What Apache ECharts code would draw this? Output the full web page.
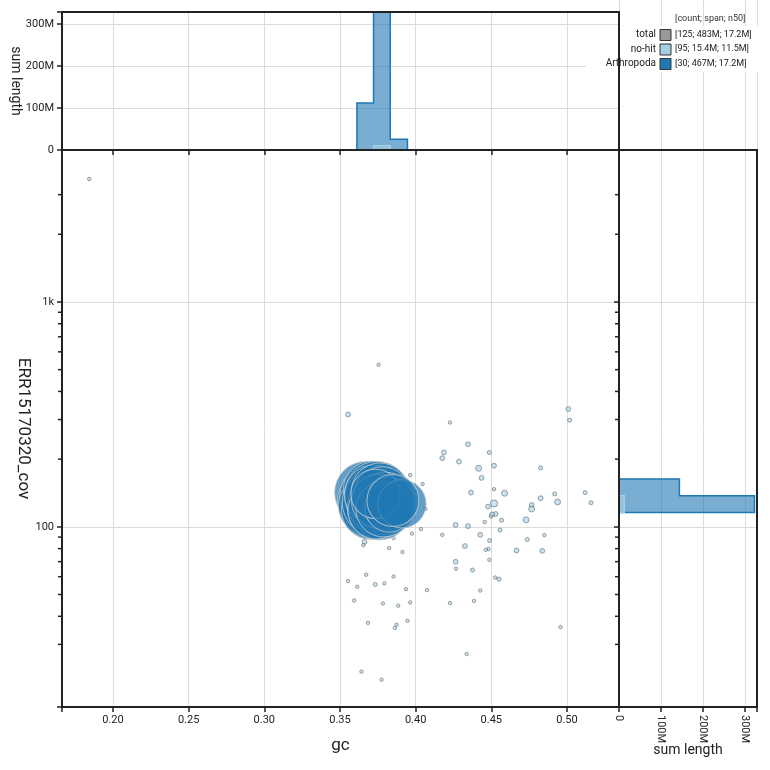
<!DOCTYPE html>
<html>
<head>
<meta charset="utf-8">
<script src="https://cdn.jsdelivr.net/npm/echarts@6/dist/echarts.min.js"></script>
<style>
  html, body { margin: 0; padding: 0; background: #fff; }
  #chart { width: 770px; height: 770px; }
</style>
</head>
<body>
<div id="chart"></div>
<script>
// scatter points: [gc, coverage, length]
const noHitPoints = [
  [0.3745, 129, 11.5e6],
  [0.3755, 526, 9e3], [0.3554, 316, 4e4], [0.4227, 291, 9e3], [0.4346, 233, 4e4],
  [0.4187, 214, 4e4], [0.4176, 202, 4e4], [0.4487, 214, 2e4], [0.4286, 195, 4e4],
  [0.4416, 182, 8e4], [0.4518, 187, 4e4], [0.4436, 165, 4e4], [0.4826, 183, 2e4],
  [0.5009, 334, 4e4], [0.5018, 298, 2e4], [0.3964, 170, 9e3], [0.4046, 155, 9e3],
  [0.4366, 142, 4e4], [0.4518, 147, 9e3], [0.4588, 141, 8e4], [0.4919, 140, 2e4],
  [0.5120, 142, 2e4], [0.5159, 128, 2e4], [0.4826, 134, 4e4], [0.4767, 125, 4e4],
  [0.4767, 120, 8e4], [0.4938, 129, 8e4], [0.4518, 127, 1.4e5], [0.4478, 123, 4e4],
  [0.4528, 114, 4e4], [0.4505, 113.4, 4e4], [0.4498, 111, 9e3], [0.4568, 107, 2e4],
  [0.4456, 105, 9e3], [0.4730, 107.4, 8e4], [0.4065, 120, 9e3], [0.4264, 102, 4e4],
  [0.4346, 100.7, 4e4], [0.4035, 97.7, 9e3], [0.4558, 96.7, 2e4], [0.3976, 93.4, 9e3],
  [0.4176, 92.1, 9e3], [0.4427, 92.1, 4e4], [0.4851, 91.9, 9e3], [0.3854, 89.1, 9e3],
  [0.3662, 85.8, 4e4], [0.3655, 82.9, 9e3], [0.4489, 86.9, 2e4], [0.4738, 87.8, 2e4],
  [0.4326, 82.1, 4e4], [0.3825, 80.4, 9e3], [0.3913, 77.2, 9e3], [0.4482, 79.6, 9e3],
  [0.4464, 79.0, 9e3], [0.4667, 78.5, 4e4], [0.4837, 78.2, 4e4], [0.4487, 71.3, 9e3],
  [0.4264, 69.9, 4e4], [0.4267, 65.1, 9e3], [0.4376, 64.2, 2e4], [0.3673, 61.2, 9e3],
  [0.3854, 60.1, 9e3], [0.3554, 57.4, 9e3], [0.3614, 54.1, 9e3], [0.3733, 55.4, 2e4],
  [0.3794, 56.0, 9e3], [0.3936, 52.8, 9e3], [0.4075, 52.3, 9e3], [0.4526, 59.5, 9e3],
  [0.4551, 58.5, 2e4], [0.4427, 52.1, 9e3], [0.3594, 47.0, 9e3], [0.3784, 45.6, 9e3],
  [0.3885, 44.6, 9e3], [0.3964, 46.1, 9e3], [0.4227, 45.8, 9e3], [0.4386, 46.8, 9e3],
  [0.3685, 37.4, 9e3], [0.3874, 36.7, 9e3], [0.3863, 35.5, 9e3], [0.3946, 38.2, 9e3],
  [0.4958, 35.8, 9e3], [0.4337, 27.2, 9e3], [0.3642, 22.7, 9e3], [0.3775, 20.9, 9e3],
  [0.1843, 3522, 9e3]
];
// small scaffolds first so the big ones cover them
const arthropodaPoints = [
  [0.3760, 128, 3e5], [0.3790, 133, 2.5e5], [0.3730, 125, 3.5e5],
  [0.3670, 142, 20e6], [0.3690, 131, 20e6], [0.3700, 138, 19e6], [0.3685, 124, 18e6],
  [0.3712, 146, 17e6], [0.3705, 119, 18e6],
  [0.3745, 140, 22e6], [0.3730, 128, 22e6], [0.3760, 121, 21e6], [0.3738, 135, 20e6],
  [0.3770, 133, 19.5e6], [0.3752, 126, 19e6], [0.3785, 136, 18.5e6], [0.3725, 139, 18e6],
  [0.3795, 129, 17.5e6], [0.3765, 143, 17.2e6], [0.3810, 124, 17e6], [0.3740, 118, 16.5e6],
  [0.3778, 139, 16e6], [0.3800, 132, 15.5e6], [0.3755, 130, 15e6], [0.3818, 127, 14e6],
  [0.3790, 120, 16e6], [0.3825, 121.5, 12e6], [0.3735, 140, 12.3e6],
  [0.3910, 126.5, 11.8e6], [0.3850, 131, 13.7e6]
];

// gc histogram (top panel): bin edges and summed length per bin
const gcEdgesArthropoda = [0.3612, 0.3722, 0.3832, 0.3946];
const gcSumArthropoda = [112e6, 329e6, 25.5e6];
const gcEdgesNoHit = [0.3722, 0.3832];
const gcSumNoHit = [10e6];

// coverage histogram (right panel)
const covEdgesArthropoda = [115.8, 137.3, 163.0];
const covSumArthropoda = [323e6, 144e6];
const covEdgesNoHit = [115.8, 137.3];
const covSumNoHit = [12.6e6];

// minor ticks on the log coverage axis
const covMinorTicks = [30, 40, 50, 60, 70, 80, 90, 200, 300, 400, 500, 600, 700, 800, 900, 2000, 3000];

// legend
const legendHeader = '[count; span; n50]';
const legendNames = ['total', 'no-hit', 'Arthropoda'];
const legendStats = ['[125; 483M; 17.2M]', '[95; 15.4M; 11.5M]', '[30; 467M; 17.2M]'];
const legendColors = ['#999999', '#a6cee3', '#1f78b4'];

const GC_MIN = 0.1663, GC_MAX = 0.5344;
const COV_MIN = 15.8, COV_MAX = 4740;
const HIST_MAX = 329e6;

const FONT = 'Roboto';
const INK = '#222';
const GRIDLINE = '#dcdcdc';

const chart = echarts.init(document.getElementById('chart'));

function radiusFor(len) {
  return 2.2 + 60 * Math.sqrt(len / 20e6);
}

// outline of a step histogram along x (vertical bars)
function stepUp(edges, sums) {
  const pts = [[edges[0], 0]];
  sums.forEach((v, i) => { pts.push([edges[i], v], [edges[i + 1], v]); });
  pts.push([edges[edges.length - 1], 0]);
  return pts;
}
// outline of a step histogram along y (horizontal bars)
function stepSide(edges, sums) {
  const pts = [[0, edges[0]]];
  sums.forEach((v, i) => { pts.push([v, edges[i]], [v, edges[i + 1]]); });
  pts.push([0, edges[edges.length - 1]]);
  return pts;
}

function histSeries(pts, xi, yi, fill, stroke, z) {
  return {
    type: 'custom',
    xAxisIndex: xi,
    yAxisIndex: yi,
    clip: true,
    silent: true,
    z: z,
    data: [pts[0]],
    renderItem: (params, api) => ({
      type: 'polygon',
      shape: { points: pts.map(p => api.coord(p)) },
      style: { fill: fill, stroke: stroke, lineWidth: 1.5 }
    })
  };
}

function tickSeries(data, xi, yi) {
  return {
    type: 'scatter',
    xAxisIndex: xi,
    yAxisIndex: yi,
    data: data,
    symbol: 'rect',
    symbolSize: [4, 1.5],
    symbolOffset: [-2, 0],
    clip: false,
    silent: true,
    z: 6,
    itemStyle: { color: INK, opacity: 1 }
  };
}

const gcLabel = v => Math.abs(v * 20 - Math.round(v * 20)) < 1e-6 ? v.toFixed(2) : '';
const covLabel = v => {
  const l = Math.log10(v);
  if (Math.abs(l - Math.round(l)) > 1e-6) return '';
  const r = Math.round(v);
  return r >= 1000 ? (r / 1000) + 'k' : String(r);
};
const spanLabel = v => {
  if (Math.abs(v / 1e8 - Math.round(v / 1e8)) > 1e-6) return '';
  return v === 0 ? '0' : Math.round(v / 1e6) + 'M';
};

const tickStyle = { show: true, length: 5, lineStyle: { color: INK, width: 1.5 } };
const labelStyle = { fontFamily: FONT, fontSize: 11, color: INK };
const splitStyle = { show: true, lineStyle: { color: GRIDLINE, width: 1 } };
const gridBase = { show: true, borderColor: INK, borderWidth: 2, backgroundColor: 'transparent', z: 5 };

const legendGraphics = [
  { type: 'rect', z: 1, silent: true, shape: { x: 586, y: 26, width: 184, height: 46 }, style: { fill: '#fff' } },
  { type: 'text', z: 7, left: 675, top: 14, style: { text: legendHeader, font: '9px ' + FONT, fill: '#333' } }
];
legendNames.forEach((name, i) => {
  const cy = 34.5 + i * 14.5;
  legendGraphics.push(
    { type: 'text', z: 7, style: { x: 656, y: cy, text: name, align: 'right', verticalAlign: 'middle', font: '10px ' + FONT, fill: INK } },
    { type: 'rect', z: 7, shape: { x: 660, y: cy - 5, width: 11, height: 11 }, style: { fill: legendColors[i], stroke: '#333', lineWidth: 1 } },
    { type: 'text', z: 7, style: { x: 675, y: cy, text: legendStats[i], align: 'left', verticalAlign: 'middle', font: '9px ' + FONT, fill: INK } }
  );
});

chart.setOption({
  animation: false,
  backgroundColor: '#fff',
  textStyle: { fontFamily: FONT },
  grid: [
    Object.assign({ left: 62, top: 150, width: 557, height: 557 }, gridBase),
    Object.assign({ left: 62, top: 12, width: 557, height: 138 }, gridBase),
    Object.assign({ left: 619, top: 150, width: 138, height: 557 }, gridBase),
    { left: 619, top: 0, width: 138, height: 150, show: false }
  ],
  xAxis: [
    {
      gridIndex: 0, type: 'value', min: GC_MIN, max: GC_MAX, splitNumber: 7,
      axisLine: { show: false, onZero: false }, axisTick: tickStyle,
      axisLabel: Object.assign({ formatter: gcLabel }, labelStyle),
      splitLine: splitStyle,
      name: 'gc', nameLocation: 'middle', nameGap: 30, nameMoveOverlap: false,
      nameTextStyle: { fontFamily: FONT, fontSize: 17, color: INK }
    },
    {
      gridIndex: 1, type: 'value', min: GC_MIN, max: GC_MAX, splitNumber: 7,
      axisLine: { show: false, onZero: false }, axisTick: tickStyle,
      axisLabel: { show: false }, splitLine: splitStyle
    },
    {
      gridIndex: 2, type: 'value', min: 0, max: HIST_MAX, interval: 100e6,
      axisLine: { show: false, onZero: false }, axisTick: tickStyle,
      axisLabel: Object.assign({ formatter: spanLabel, rotate: -90 }, labelStyle),
      splitLine: splitStyle,
      name: 'sum length', nameLocation: 'middle', nameGap: 36, nameMoveOverlap: false,
      nameTextStyle: { fontFamily: FONT, fontSize: 14, color: INK }
    },
    {
      gridIndex: 3, type: 'value', min: 0, max: HIST_MAX, interval: 100e6,
      axisLine: { show: false }, axisTick: { show: false }, axisLabel: { show: false },
      splitLine: splitStyle
    }
  ],
  yAxis: [
    {
      gridIndex: 0, type: 'log', logBase: 10, min: COV_MIN, max: COV_MAX,
      axisLine: { show: false, onZero: false }, axisTick: tickStyle,
      axisLabel: Object.assign({ formatter: covLabel }, labelStyle),
      splitLine: splitStyle,
      name: 'ERR15170320_cov', nameLocation: 'middle', nameGap: 30, nameRotate: -90,
      nameMoveOverlap: false,
      nameTextStyle: { fontFamily: FONT, fontSize: 17, color: INK }
    },
    {
      gridIndex: 1, type: 'value', min: 0, max: HIST_MAX, interval: 100e6,
      axisLine: { show: false, onZero: false }, axisTick: tickStyle,
      axisLabel: Object.assign({ formatter: spanLabel }, labelStyle),
      splitLine: splitStyle,
      name: 'sum length', nameLocation: 'middle', nameGap: 40, nameRotate: -90,
      nameMoveOverlap: false,
      nameTextStyle: { fontFamily: FONT, fontSize: 14, color: INK }
    },
    {
      gridIndex: 2, type: 'log', logBase: 10, min: COV_MIN, max: COV_MAX,
      axisLine: { show: false, onZero: false }, axisTick: tickStyle,
      axisLabel: { show: false }, splitLine: splitStyle
    },
    { gridIndex: 3, type: 'value', show: false, min: 0, max: 1 }
  ],
  series: [
    {
      type: 'scatter', name: 'no-hit', xAxisIndex: 0, yAxisIndex: 0, z: 2,
      data: noHitPoints,
      symbolSize: p => radiusFor(p[2]),
      itemStyle: { color: 'rgba(166,206,227,0.6)', borderColor: 'rgba(70,80,90,0.7)', borderWidth: 0.7, opacity: 1 }
    },
    {
      type: 'scatter', name: 'Arthropoda', xAxisIndex: 0, yAxisIndex: 0, z: 3,
      data: arthropodaPoints,
      symbolSize: p => radiusFor(p[2]),
      itemStyle: { color: 'rgba(31,120,180,0.7)', borderColor: 'rgba(205,205,205,0.75)', borderWidth: 1, opacity: 1 }
    },
    histSeries(stepUp(gcEdgesArthropoda, gcSumArthropoda), 1, 1, 'rgba(31,120,180,0.6)', '#1f78b4', 2),
    histSeries(stepUp(gcEdgesNoHit, gcSumNoHit), 1, 1, 'rgba(166,206,227,0.6)', '#a6cee3', 3),
    histSeries(stepSide(covEdgesArthropoda, covSumArthropoda), 2, 2, 'rgba(31,120,180,0.6)', '#1f78b4', 2),
    histSeries(stepSide(covEdgesNoHit, covSumNoHit), 2, 2, 'rgba(166,206,227,0.6)', '#a6cee3', 3),
    tickSeries(covMinorTicks.map(v => [GC_MIN, v]), 0, 0),
    tickSeries(covMinorTicks.map(v => [0, v]), 2, 2)
  ],
  graphic: legendGraphics
});
</script>
</body>
</html>
